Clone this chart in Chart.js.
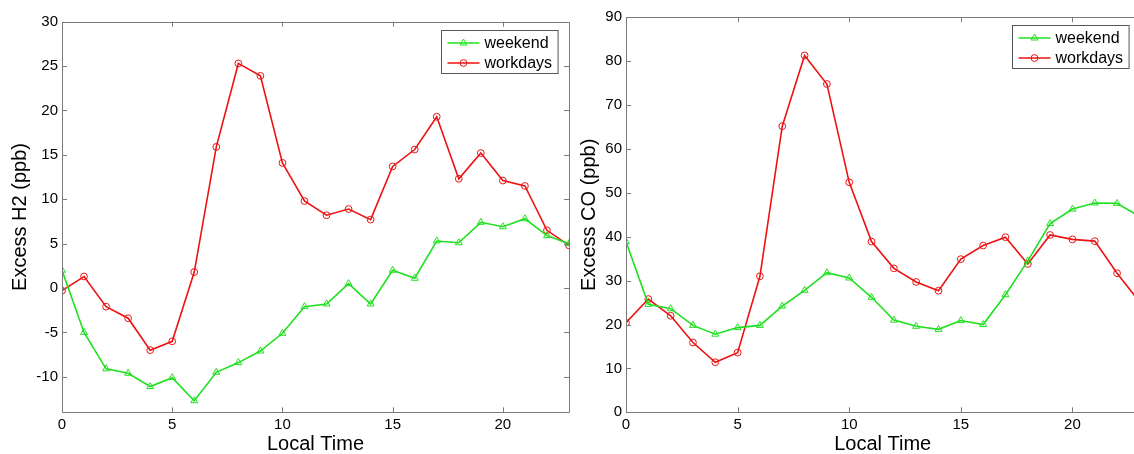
<!DOCTYPE html>
<html>
<head>
<meta charset="utf-8">
<script src="https://cdn.jsdelivr.net/npm/chart.js@4"></script>
<style>
  html, body { margin: 0; padding: 0; background: #fff; overflow: hidden; }
  #wrap { position: relative; width: 1134px; height: 454px; overflow: hidden; }
  canvas { position: absolute; top: 0; }
  #h2Chart { left: 0; }
  #coChart { left: 574px; }
</style>
</head>
<body>
<div id="wrap">
  <canvas id="h2Chart" width="574" height="454"></canvas>
  <canvas id="coChart" width="571" height="454"></canvas>
</div>
<script>
// hours of the day
const hours = [0, 1, 2, 3, 4, 5, 6, 7, 8, 9, 10, 11, 12, 13, 14, 15, 16, 17, 18, 19, 20, 21, 22, 23];

// excess H2 (ppb)
const h2Weekend = [2.0, -5.0, -9.1, -9.6, -11.1, -10.1, -12.7, -9.5, -8.4, -7.1, -5.1, -2.1, -1.8, 0.5, -1.8, 2.0, 1.1, 5.3, 5.1, 7.4, 6.9, 7.8, 5.9, 5.0];
const h2Workdays = [-0.3, 1.3, -2.1, -3.4, -7.0, -6.0, 1.8, 15.9, 25.3, 23.9, 14.1, 9.8, 8.2, 8.9, 7.7, 13.7, 15.6, 19.3, 12.3, 15.2, 12.1, 11.5, 6.5, 4.8];

// excess CO (ppb)
const coWeekend = [38.9, 24.6, 23.6, 19.8, 17.8, 19.3, 19.8, 24.2, 27.8, 31.8, 30.6, 26.2, 21.0, 19.6, 18.9, 20.9, 20.0, 26.8, 34.5, 43.0, 46.3, 47.7, 47.6, 44.6];
const coWorkdays = [20.4, 25.8, 22.0, 15.9, 11.4, 13.6, 31.0, 65.2, 81.3, 74.8, 52.4, 38.9, 32.8, 29.7, 27.7, 34.9, 38.0, 39.9, 33.8, 40.4, 39.4, 39.0, 31.7, 25.2];

// x tick labels (hours)
const xTicks = [0, 5, 10, 15, 20];
const seriesNames = ['weekend', 'workdays'];

const GREEN = '#1fe01f';
const RED = '#ee1111';
const AXIS = '#7a7a7a';
const FONT = 'Arial, "Liberation Sans", sans-serif';

function toPoints(values) {
  return hours.map((h, i) => ({ x: h, y: values[i] }));
}

// MATLAB-like box with inward ticks, x labels, and the boxed legend
const framePlugin = {
  id: 'frame',
  afterDraw(chart) {
    const { ctx, chartArea: a, scales } = chart;
    const tl = 5;
    ctx.save();
    ctx.strokeStyle = AXIS;
    ctx.lineWidth = 1;
    ctx.beginPath();
    ctx.rect(Math.round(a.left) + 0.5, Math.round(a.top) + 0.5,
      Math.round(a.right) - Math.round(a.left), Math.round(a.bottom) - Math.round(a.top));
    xTicks.forEach(v => {
      const px = Math.round(scales.x.getPixelForValue(v)) + 0.5;
      ctx.moveTo(px, a.bottom); ctx.lineTo(px, a.bottom - tl);
      ctx.moveTo(px, a.top); ctx.lineTo(px, a.top + tl);
    });
    scales.y.ticks.forEach(t => {
      const py = Math.round(scales.y.getPixelForValue(t.value)) + 0.5;
      ctx.moveTo(a.left, py); ctx.lineTo(a.left + tl, py);
      ctx.moveTo(a.right, py); ctx.lineTo(a.right - tl, py);
    });
    ctx.stroke();

    // hour labels under the x axis
    ctx.fillStyle = '#000';
    ctx.font = '15px ' + FONT;
    ctx.textAlign = 'center';
    ctx.textBaseline = 'middle';
    xTicks.forEach(v => {
      ctx.fillText(String(v), scales.x.getPixelForValue(v), a.bottom + 13);
    });

    // legend
    ctx.font = '16px ' + FONT;
    const sets = chart.data.datasets;
    const textW = Math.max(...sets.map(d => ctx.measureText(d.label).width));
    const boxW = 6 + 32 + 5 + textW + 6;
    const boxH = 43;
    const bx = Math.round(a.right - 11 - boxW) + 0.5;
    const by = Math.round(a.top + 8) + 0.5;
    ctx.fillStyle = '#fff';
    ctx.fillRect(bx, by, boxW, boxH);
    ctx.strokeStyle = '#555';
    ctx.lineWidth = 1;
    ctx.strokeRect(bx, by, boxW, boxH);
    sets.forEach((d, i) => {
      const cy = by + 12.5 + i * 20;
      ctx.strokeStyle = d.borderColor;
      ctx.lineWidth = d.borderWidth;
      ctx.beginPath();
      ctx.moveTo(bx + 6, cy); ctx.lineTo(bx + 38, cy);
      ctx.stroke();
      ctx.fillStyle = 'rgba(0,0,0,0)';
      ctx.lineWidth = 1;
      Chart.helpers.drawPoint(ctx, {
        pointStyle: d.pointStyle, radius: d.pointRadius, borderWidth: 1, rotation: 0
      }, bx + 22, cy);
      ctx.fillStyle = '#000';
      ctx.textBaseline = 'middle';
      ctx.textAlign = 'left';
      ctx.fillText(d.label, bx + 43, cy + 1);
    });
    ctx.restore();
  }
};

function makeChart(id, weekend, workdays, yMin, yMax, yStep, yTitle, opts) {
  const ctx = document.getElementById(id).getContext('2d');
  return new Chart(ctx, {
    type: 'line',
    data: {
      datasets: [
        {
          label: seriesNames[0],
          data: toPoints(weekend),
          borderColor: GREEN,
          borderWidth: 1.6,
          pointStyle: 'triangle',
          pointRadius: 4,
          pointBorderColor: GREEN,
          pointBackgroundColor: 'rgba(0,0,0,0)',
          pointBorderWidth: 1,
          tension: 0,
        },
        {
          label: seriesNames[1],
          data: toPoints(workdays),
          borderColor: RED,
          borderWidth: 1.6,
          pointStyle: 'circle',
          pointRadius: 3.4,
          pointBorderColor: RED,
          pointBackgroundColor: 'rgba(0,0,0,0)',
          pointBorderWidth: 1,
          tension: 0,
        },
      ],
    },
    options: {
      responsive: false,
      animation: false,
      layout: { padding: { top: opts.top, right: opts.right, left: 0, bottom: 0 } },
      plugins: { legend: { display: false }, tooltip: { enabled: false } },
      scales: {
        x: {
          type: 'linear',
          min: 0,
          max: 23,
          grid: { display: false, drawTicks: false },
          border: { display: false },
          ticks: { display: false, stepSize: 5 },
          title: {
            display: true, text: 'Local Time', color: '#000',
            font: { family: FONT, size: 20, lineHeight: 1 }, padding: { top: 0, bottom: 0 },
          },
          afterFit: scale => { scale.height = 41.7; },
        },
        y: {
          min: yMin,
          max: yMax,
          grid: { display: false, drawTicks: false },
          border: { display: false },
          ticks: { stepSize: yStep, includeBounds: false, color: '#000', font: { family: FONT, size: 15 }, padding: 4 },
          title: {
            display: true, text: yTitle, color: '#000',
            font: { family: FONT, size: 20, lineHeight: 1.2 }, padding: { top: opts.titlePad, bottom: 0 },
          },
          afterFit: scale => { scale.width = opts.yWidth; },
        },
      },
    },
    plugins: [framePlugin],
  });
}

makeChart('h2Chart', h2Weekend, h2Workdays, -14, 30, 5, 'Excess H2 (ppb)',
  { top: 21.7, right: 2, yWidth: 62, titlePad: 8.5 });
makeChart('coChart', coWeekend, coWorkdays, 0, 90, 10, 'Excess CO (ppb)',
  { top: 17.3, right: 5.6, yWidth: 52, titlePad: 3 });
</script>
</body>
</html>
